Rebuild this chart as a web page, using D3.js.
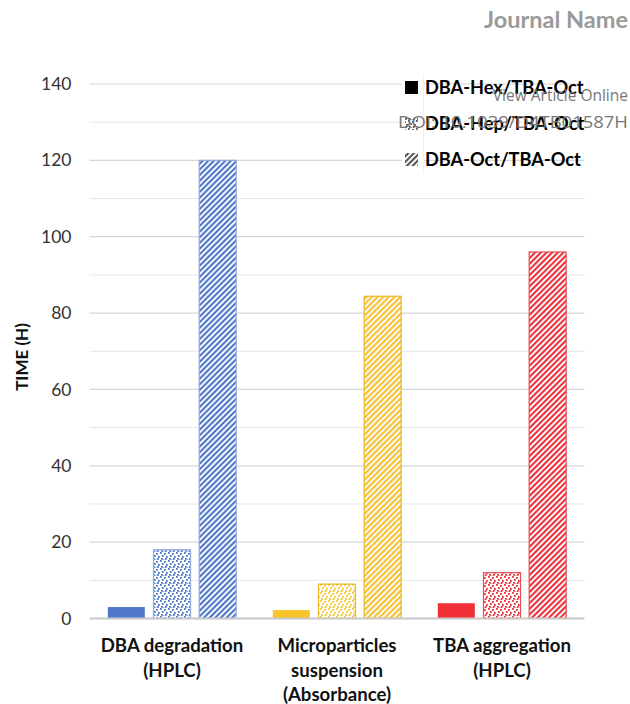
<!DOCTYPE html>
<html><head><meta charset="utf-8">
<script src="https://cdn.jsdelivr.net/npm/d3@7/dist/d3.min.js"></script>
<style>body{margin:0;background:#fff}svg{display:block}</style>
</head><body>
<script>
const categories = [["DBA degradation","(HPLC)"],["Microparticles","suspension","(Absorbance)"],["TBA aggregation","(HPLC)"]];
const series = ["DBA-Hex/TBA-Oct","DBA-Hep/TBA-Oct","DBA-Oct/TBA-Oct"];
const hexValues = [3, 2.2, 4];
const hepValues = [18, 9, 12];
const octValues = [120, 84.4, 96];
const yTicks = [0,20,40,60,80,100,120,140];
const minorTicks = [10,30,50,70,90,110,130];
const groupColors = ["#4f78c8","#f8c42a","#f03036"];
const groupBorders = ["#8fa9dc","#e8b820","#e05055"];

const W=630,H=704;
const svg=d3.select("body").append("svg").attr("width",W).attr("height",H);
const defs=svg.append("defs");
const font="Lato, 'Open Sans', sans-serif";

const gKeys=categories.map((c,i)=>"g"+i);
const x0=d3.scaleBand().domain(gKeys).range([89.5,584.5]).paddingInner(0.222).paddingOuter(0.111);
const x1=d3.scaleBand().domain(series).range([0,x0.bandwidth()]).paddingInner(0.19).paddingOuter(0);
const y=d3.scaleLinear().domain([0,140]).range([618.5,84]);

function makePatterns(id,color){
  const d=defs.append("pattern").attr("id","dot"+id).attr("patternUnits","userSpaceOnUse").attr("width",8).attr("height",8);
  d.append("rect").attr("width",8).attr("height",8).attr("fill","#fff");
  [[0,0],[4,1],[2,3],[6,4],[1,6],[5,6],[3,7.5]].forEach(p=>d.append("rect").attr("x",p[0]).attr("y",p[1]).attr("width",1.8).attr("height",1.8).attr("fill",color));
  const h=defs.append("pattern").attr("id","hat"+id).attr("patternUnits","userSpaceOnUse").attr("width",4).attr("height",4).attr("patternTransform","rotate(45)");
  h.append("rect").attr("width",4).attr("height",4).attr("fill","#f4f6fb");
  h.append("rect").attr("width",2).attr("height",4).attr("fill",color);
}
groupColors.forEach((c,i)=>makePatterns(i,c));
makePatterns("L","#555");

svg.append("g").selectAll("line").data(minorTicks).join("line")
 .attr("x1",89.5).attr("x2",584.5).attr("y1",d=>y(d)).attr("y2",d=>y(d))
 .attr("stroke","#e6e6e6").attr("stroke-width",1);
svg.append("g").selectAll("line").data(yTicks.filter(d=>d>0)).join("line")
 .attr("x1",89.5).attr("x2",584.5).attr("y1",d=>y(d)).attr("y2",d=>y(d))
 .attr("stroke","#d6d6d6").attr("stroke-width",1.2);

const yAxis=d3.axisLeft(y).tickValues(yTicks).tickSize(0).tickPadding(18);
const ya=svg.append("g").attr("transform","translate(89.5,0)").call(yAxis);
ya.select(".domain").remove();
ya.selectAll("text").attr("font-family",font).attr("font-size",17.5).attr("fill","#333");

svg.append("text").attr("transform","translate(28,357) rotate(-90)").attr("text-anchor","middle")
 .attr("font-family",font).attr("font-weight","bold").attr("font-size",17).attr("fill","#111").text("TIME (H)");

const valuesBySeries=[hexValues,hepValues,octValues];
gKeys.forEach((g,gi)=>{
  series.forEach((s,si)=>{
    const v=valuesBySeries[si][gi];
    const fill= si===0?groupColors[gi]: si===1?`url(#dot${gi})`:`url(#hat${gi})`;
    svg.append("rect").attr("x",x0(g)+x1(s)).attr("y",y(v)).attr("width",x1.bandwidth()).attr("height",y(0)-y(v))
      .attr("fill",fill).attr("stroke",si===0?"none":groupBorders[gi]).attr("stroke-width",1.2);
  });
});

svg.append("line").attr("x1",89.5).attr("x2",584.5).attr("y1",y(0)).attr("y2",y(0)).attr("stroke","#c8c8c8").attr("stroke-width",2);

categories.forEach((lines,i)=>{
  const cx=x0(gKeys[i])+x0.bandwidth()/2;
  const t=svg.append("text").attr("text-anchor","middle").attr("font-family",font).attr("font-weight","bold").attr("font-size",18.6).attr("fill","#111");
  lines.forEach((l,j)=>t.append("tspan").attr("x",cx).attr("y",652+j*24.5).text(l));
});

svg.append("rect").attr("x",402).attr("y",74).attr("width",22).attr("height",100).attr("fill","#fff");
svg.append("line").attr("x1",423.5).attr("x2",423.5).attr("y1",74).attr("y2",174).attr("stroke","#f0f0f0");
const legFills=["#000","url(#dotL)","url(#hatL)"];
series.forEach((s,i)=>{
  const cy=88+i*36;
  svg.append("rect").attr("x",405).attr("y",cy-7).attr("width",13).attr("height",13).attr("fill",legFills[i]);
  svg.append("text").attr("x",425).attr("y",cy+6).attr("font-family",font).attr("font-weight","bold").attr("font-size",18.2).attr("fill","#000").text(s);
});

svg.append("text").attr("x",628).attr("y",28).attr("text-anchor","end").attr("font-family",font).attr("font-weight","bold").attr("font-size",23.5).attr("fill","#9a9a9a").text("Journal Name");
svg.append("text").attr("x",628).attr("y",101).attr("text-anchor","end").attr("font-family","'Open Sans', sans-serif").attr("font-size",15.5).attr("fill","#777").text("View Article Online");
svg.append("text").attr("x",628).attr("y",128).attr("text-anchor","end").attr("font-family","'Open Sans', sans-serif").attr("font-size",16.5)
 .attr("textLength",230).attr("lengthAdjust","spacingAndGlyphs").attr("fill","#777").text("DOI: 10.1039/D4TB01587H");
</script>
</body></html>
